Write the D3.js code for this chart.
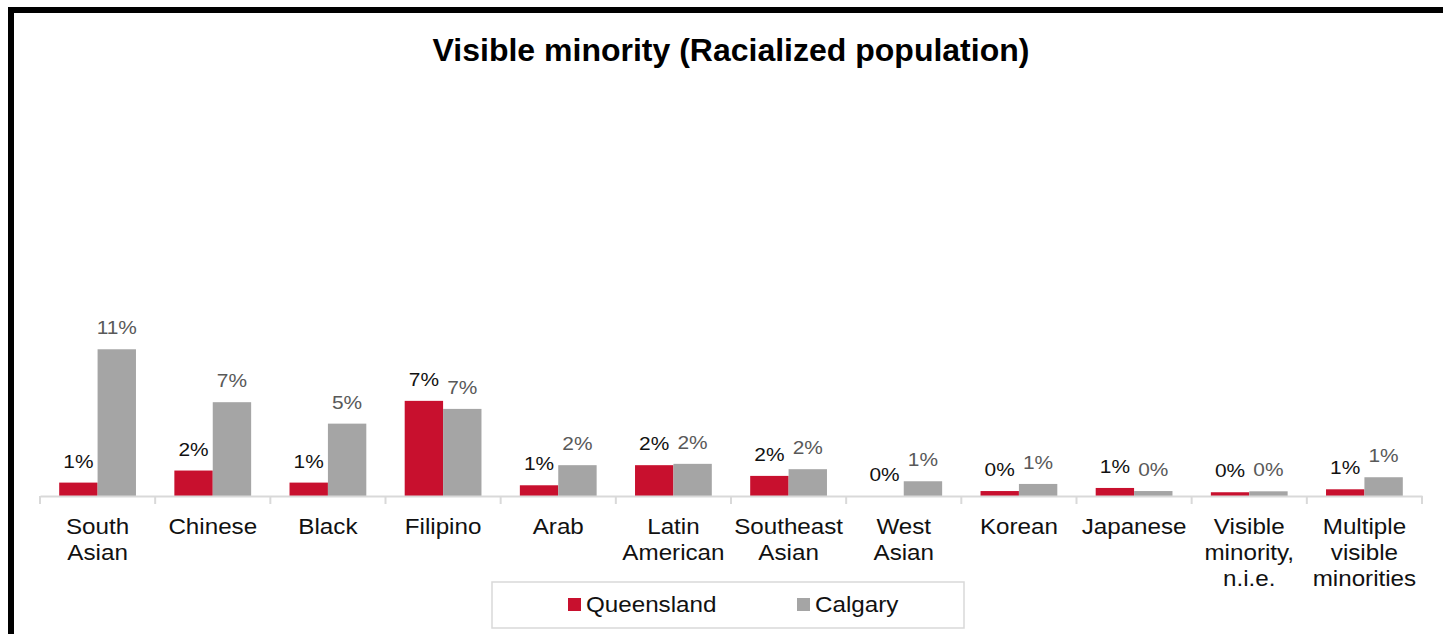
<!DOCTYPE html>
<html>
<head>
<meta charset="utf-8">
<script src="https://cdnjs.cloudflare.com/ajax/libs/d3/7.8.5/d3.min.js"></script>
<style>
  body { margin: 0; background: #fff; }
  svg { display: block; font-family: "Liberation Sans", Arial, sans-serif; }
</style>
</head>
<body>
<script>
// data (percent of population)
var categories = ["South Asian", "Chinese", "Black", "Filipino", "Arab", "Latin American",
  "Southeast Asian", "West Asian", "Korean", "Japanese", "Visible minority, n.i.e.",
  "Multiple visible minorities"];
var catLines = [["South", "Asian"], ["Chinese"], ["Black"], ["Filipino"], ["Arab"],
  ["Latin", "American"], ["Southeast", "Asian"], ["West", "Asian"], ["Korean"],
  ["Japanese"], ["Visible", "minority,", "n.i.e."], ["Multiple", "visible", "minorities"]];
var series = ["Queensland", "Calgary"];
var queensland = [1.0, 1.9, 1.0, 7.1, 0.8, 2.3, 1.5, 0.0, 0.37, 0.6, 0.28, 0.5];
var calgary = [10.95, 7.0, 5.4, 6.5, 2.3, 2.4, 2.0, 1.1, 0.9, 0.37, 0.35, 1.4];
var queenslandLabels = ["1%", "2%", "1%", "7%", "1%", "2%", "2%", "0%", "0%", "1%", "0%", "1%"];
var calgaryLabels = ["11%", "7%", "5%", "7%", "2%", "2%", "2%", "1%", "1%", "0%", "0%", "1%"];

var colors = { Queensland: "#C8102E", Calgary: "#A5A5A5" };
var labelColors = { Queensland: "#111", Calgary: "#595959" };

var W = 1443, H = 634, base = 496, stretch = 1.1;

var svg = d3.select("body").append("svg")
    .attr("width", W)
    .attr("height", H);

// frame (cut off at right and bottom)
svg.append("rect")
    .attr("x", 11).attr("y", 10)
    .attr("width", 1600).attr("height", 800)
    .attr("fill", "none")
    .attr("stroke", "#000")
    .attr("stroke-width", 6);

svg.append("text")
    .attr("x", 731).attr("y", 61)
    .attr("text-anchor", "middle")
    .style("font-size", "32px")
    .style("font-weight", "bold")
    .text("Visible minority (Racialized population)");

var x = d3.scaleBand().domain(categories).range([40, 1422]);
var xs = d3.scaleBand().domain(series).range([x.bandwidth() / 6, x.bandwidth() * 5 / 6]);
var y = d3.scaleLinear().domain([0, 12]).range([base, base - 12 * 13.4]);

var rows = categories.map(function(c, i) {
  return { cat: c, vals: [
    { s: "Queensland", v: queensland[i], label: queenslandLabels[i] },
    { s: "Calgary", v: calgary[i], label: calgaryLabels[i] }
  ] };
});

var groups = svg.selectAll(".grp")
    .data(rows)
  .enter().append("g")
    .attr("class", "grp")
    .attr("transform", function(d) { return "translate(" + x(d.cat) + ",0)"; });

groups.selectAll("rect")
    .data(function(d) { return d.vals; })
  .enter().append("rect")
    .attr("x", function(d) { return xs(d.s); })
    .attr("y", function(d) { return y(d.v); })
    .attr("width", xs.bandwidth())
    .attr("height", function(d) { return base - y(d.v); })
    .attr("fill", function(d) { return colors[d.s]; });

groups.selectAll(".lbl")
    .data(function(d) { return d.vals; })
  .enter().append("text")
    .attr("class", "lbl")
    .attr("transform", function(d) {
      return "translate(" + (xs(d.s) + xs.bandwidth() / 2) + "," + (y(d.v) - 15) + ") scale(" + stretch + ",1)";
    })
    .attr("text-anchor", "middle")
    .style("font-size", "19px")
    .attr("fill", function(d) { return labelColors[d.s]; })
    .text(function(d) { return d.label; });

// x axis
var axis = svg.append("g")
    .attr("transform", "translate(0," + base + ")")
    .call(d3.axisBottom(x).tickSize(0).tickFormat(""));
axis.select(".domain").attr("stroke", "#d9d9d9").attr("stroke-width", 2);
axis.selectAll(".tick").remove();

var edges = categories.map(function(c) { return x(c); }).concat([x.range()[1]]);
svg.selectAll(".edge")
    .data(edges)
  .enter().append("line")
    .attr("class", "edge")
    .attr("x1", function(d) { return d; }).attr("x2", function(d) { return d; })
    .attr("y1", base).attr("y2", base + 8)
    .attr("stroke", "#d9d9d9").attr("stroke-width", 2);

var catText = svg.selectAll(".cat")
    .data(categories)
  .enter().append("text")
    .attr("class", "cat")
    .attr("text-anchor", "middle")
    .attr("transform", function(d) {
      return "translate(" + (x(d) + x.bandwidth() / 2) + ",534) scale(" + stretch + ",1)";
    })
    .style("font-size", "22px")
    .attr("fill", "#111");

catText.selectAll("tspan")
    .data(function(d, i) { return catLines[i]; })
  .enter().append("tspan")
    .attr("x", 0)
    .attr("dy", function(d, j) { return j === 0 ? 0 : 26; })
    .text(function(d) { return d; });

// legend
var legend = svg.append("g");
legend.append("rect")
    .attr("x", 492).attr("y", 582)
    .attr("width", 472).attr("height", 46)
    .attr("fill", "#fff")
    .attr("stroke", "#d9d9d9").attr("stroke-width", 1.5);

var legendX = [568, 797];
var items = legend.selectAll(".item")
    .data(series)
  .enter().append("g")
    .attr("transform", function(d, i) { return "translate(" + legendX[i] + ",598)"; });
items.append("rect")
    .attr("width", 13).attr("height", 13)
    .attr("fill", function(d) { return colors[d]; });
items.append("text")
    .attr("transform", "translate(18,14) scale(" + stretch + ",1)")
    .style("font-size", "22px")
    .attr("fill", "#111")
    .text(function(d) { return d; });
</script>
</body>
</html>
